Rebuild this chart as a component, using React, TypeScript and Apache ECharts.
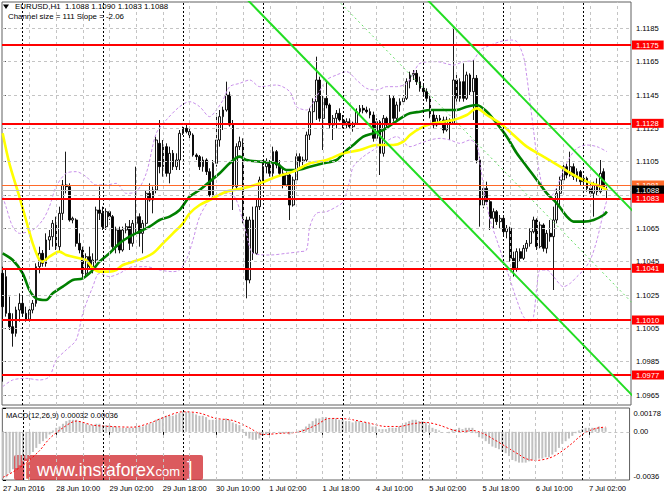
import React, { useEffect, useRef } from "react";
import * as echarts from "echarts";

// ---------- DATA ----------
// H1 candles, bar 0 = 27 Jun 2016 18:00 ; rows: [open, high, low, close]
const candles: number[][] = [
  [1.1038, 1.1042, 1.0973, 1.1018], [1.1036, 1.1041, 1.1012, 1.1014], [1.1014, 1.1024, 1.1004, 1.1006],
  [1.1006, 1.1014, 1.0994, 1.1002], [1.1002, 1.1018, 1.1000, 1.1016], [1.1016, 1.1026, 1.1009, 1.1020],
  [1.1020, 1.1025, 1.1012, 1.1014], [1.1014, 1.1018, 1.1009, 1.1010], [1.1010, 1.1018, 1.1009, 1.1016],
  [1.1016, 1.1022, 1.1014, 1.1020], [1.1020, 1.1044, 1.1018, 1.1042], [1.1042, 1.1054, 1.1038, 1.1050],
  [1.1050, 1.1052, 1.1042, 1.1044], [1.1044, 1.1062, 1.1042, 1.1058], [1.1058, 1.1064, 1.1052, 1.1060],
  [1.1060, 1.1070, 1.1054, 1.1068], [1.1068, 1.1072, 1.1052, 1.1054], [1.1054, 1.1078, 1.1051, 1.1074],
  [1.1074, 1.1094, 1.1070, 1.1091], [1.1091, 1.1111, 1.1086, 1.1090], [1.1090, 1.1092, 1.1069, 1.1070],
  [1.1070, 1.1072, 1.1068, 1.1071], [1.1070, 1.1071, 1.1054, 1.1056], [1.1056, 1.1062, 1.1050, 1.1052],
  [1.1052, 1.1054, 1.1035, 1.1038], [1.1038, 1.1050, 1.1036, 1.1048], [1.1048, 1.1054, 1.1040, 1.1042],
  [1.1042, 1.1050, 1.1038, 1.1046], [1.1046, 1.1078, 1.1044, 1.1076], [1.1076, 1.1090, 1.1070, 1.1074],
  [1.1074, 1.1078, 1.1064, 1.1066], [1.1066, 1.1077, 1.1064, 1.1075], [1.1075, 1.1076, 1.1070, 1.1072],
  [1.1072, 1.1073, 1.1052, 1.1054], [1.1054, 1.1066, 1.1050, 1.1064], [1.1064, 1.1066, 1.1050, 1.1052],
  [1.1052, 1.1066, 1.1051, 1.1064], [1.1064, 1.1068, 1.1062, 1.1066], [1.1066, 1.1070, 1.1052, 1.1056],
  [1.1056, 1.1070, 1.1054, 1.1068], [1.1068, 1.1102, 1.1062, 1.1072], [1.1072, 1.1074, 1.1054, 1.1062],
  [1.1062, 1.1070, 1.1050, 1.1068], [1.1068, 1.1088, 1.1066, 1.1086], [1.1086, 1.1092, 1.1081, 1.1082],
  [1.1082, 1.1090, 1.1074, 1.1088], [1.1088, 1.1120, 1.1086, 1.1118], [1.1116, 1.1130, 1.1098, 1.1102],
  [1.1102, 1.1118, 1.1096, 1.1114], [1.1114, 1.1116, 1.1096, 1.1098], [1.1098, 1.1114, 1.1092, 1.1110],
  [1.1110, 1.1112, 1.1100, 1.1102], [1.1102, 1.1110, 1.1100, 1.1106], [1.1106, 1.1124, 1.1100, 1.1122],
  [1.1122, 1.1126, 1.1121, 1.1125], [1.1125, 1.1127, 1.1122, 1.1123], [1.1123, 1.1125, 1.1119, 1.1121],
  [1.1121, 1.1122, 1.1108, 1.1109], [1.1109, 1.1110, 1.1106, 1.1108], [1.1108, 1.1109, 1.1100, 1.1102],
  [1.1102, 1.1108, 1.1099, 1.1106], [1.1106, 1.1107, 1.1097, 1.1099], [1.1099, 1.1101, 1.1084, 1.1085],
  [1.1085, 1.1106, 1.1084, 1.1104], [1.1104, 1.1134, 1.1102, 1.1118], [1.1118, 1.1136, 1.1114, 1.1132],
  [1.1132, 1.1138, 1.1124, 1.1136], [1.1136, 1.1153, 1.1135, 1.1145], [1.1145, 1.1147, 1.1126, 1.1127],
  [1.1127, 1.1130, 1.1076, 1.1090], [1.1090, 1.1116, 1.1088, 1.1114], [1.1114, 1.1120, 1.1112, 1.1117],
  [1.1116, 1.1119, 1.1068, 1.1070], [1.1070, 1.1072, 1.1023, 1.1034], [1.1034, 1.1072, 1.1032, 1.1070],
  [1.1070, 1.1078, 1.1046, 1.1050], [1.1050, 1.1082, 1.1049, 1.1078], [1.1078, 1.1096, 1.1076, 1.1094],
  [1.1094, 1.1106, 1.1092, 1.1102], [1.1102, 1.1107, 1.1098, 1.1104], [1.1104, 1.1106, 1.1096, 1.1098],
  [1.1098, 1.1114, 1.1096, 1.1111], [1.1111, 1.1112, 1.1101, 1.1103], [1.1103, 1.1106, 1.1096, 1.1098],
  [1.1098, 1.1101, 1.1089, 1.1091], [1.1091, 1.1099, 1.1090, 1.1097], [1.1097, 1.1098, 1.1070, 1.1079],
  [1.1079, 1.1096, 1.1078, 1.1094], [1.1094, 1.1110, 1.1092, 1.1108], [1.1108, 1.1110, 1.1102, 1.1105],
  [1.1105, 1.1108, 1.1103, 1.1106], [1.1106, 1.1123, 1.1105, 1.1121], [1.1121, 1.1137, 1.1118, 1.1135],
  [1.1135, 1.1143, 1.1128, 1.1141], [1.1141, 1.1168, 1.1130, 1.1154], [1.1154, 1.1156, 1.1129, 1.1131],
  [1.1131, 1.1145, 1.1112, 1.1143], [1.1143, 1.1153, 1.1137, 1.1139], [1.1139, 1.1140, 1.1125, 1.1127],
  [1.1127, 1.1133, 1.1118, 1.1131], [1.1131, 1.1136, 1.1125, 1.1134], [1.1134, 1.1137, 1.1129, 1.1130],
  [1.1130, 1.1133, 1.1125, 1.1127], [1.1127, 1.1131, 1.1125, 1.1129], [1.1129, 1.1131, 1.1125, 1.1126],
  [1.1126, 1.1129, 1.1123, 1.1128], [1.1128, 1.1137, 1.1127, 1.1135], [1.1135, 1.1139, 1.1133, 1.1137],
  [1.1137, 1.1139, 1.1134, 1.1136], [1.1136, 1.1138, 1.1134, 1.1135], [1.1135, 1.1137, 1.1131, 1.1133],
  [1.1133, 1.1135, 1.1117, 1.1119], [1.1119, 1.1131, 1.1118, 1.1129], [1.1129, 1.1130, 1.1097, 1.1110],
  [1.1110, 1.1133, 1.1108, 1.1131], [1.1131, 1.1132, 1.1125, 1.1127], [1.1127, 1.1145, 1.1126, 1.1143],
  [1.1143, 1.1145, 1.1129, 1.1131], [1.1131, 1.1141, 1.1130, 1.1139], [1.1139, 1.1143, 1.1135, 1.1141],
  [1.1141, 1.1145, 1.1139, 1.1143], [1.1143, 1.1155, 1.1142, 1.1153], [1.1153, 1.1159, 1.1149, 1.1157],
  [1.1157, 1.1160, 1.1154, 1.1158], [1.1158, 1.1160, 1.1151, 1.1153], [1.1153, 1.1156, 1.1147, 1.1149],
  [1.1149, 1.1151, 1.1145, 1.1147], [1.1147, 1.1149, 1.1141, 1.1143], [1.1143, 1.1145, 1.1131, 1.1133],
  [1.1133, 1.1136, 1.1125, 1.1127], [1.1127, 1.1133, 1.1126, 1.1131], [1.1131, 1.1133, 1.1128, 1.1130],
  [1.1130, 1.1132, 1.1122, 1.1124], [1.1124, 1.1132, 1.1123, 1.1130], [1.1130, 1.1131, 1.1118, 1.1128],
  [1.1128, 1.1186, 1.1127, 1.1154], [1.1154, 1.1157, 1.1141, 1.1143], [1.1143, 1.1155, 1.1141, 1.1153],
  [1.1153, 1.1164, 1.1141, 1.1143], [1.1143, 1.1159, 1.1142, 1.1157], [1.1157, 1.1158, 1.1145, 1.1147],
  [1.1147, 1.1166, 1.1130, 1.1155], [1.1155, 1.1157, 1.1104, 1.1106], [1.1106, 1.1108, 1.1066, 1.1079],
  [1.1079, 1.1091, 1.1077, 1.1089], [1.1089, 1.1093, 1.1079, 1.1081], [1.1081, 1.1082, 1.1064, 1.1071],
  [1.1071, 1.1077, 1.1065, 1.1075], [1.1075, 1.1076, 1.1067, 1.1069], [1.1069, 1.1073, 1.1065, 1.1071],
  [1.1071, 1.1072, 1.1061, 1.1063], [1.1063, 1.1067, 1.1059, 1.1065], [1.1065, 1.1066, 1.1045, 1.1047],
  [1.1047, 1.1051, 1.1036, 1.1041], [1.1041, 1.1053, 1.1039, 1.1051], [1.1051, 1.1053, 1.1045, 1.1047],
  [1.1047, 1.1055, 1.1046, 1.1053], [1.1053, 1.1058, 1.1051, 1.1056], [1.1056, 1.1065, 1.1054, 1.1063],
  [1.1063, 1.1072, 1.1062, 1.1070], [1.1070, 1.1071, 1.1052, 1.1054], [1.1054, 1.1069, 1.1053, 1.1067],
  [1.1067, 1.1068, 1.1051, 1.1053], [1.1053, 1.1064, 1.1050, 1.1062], [1.1062, 1.1070, 1.1057, 1.1060],
  [1.1060, 1.1078, 1.1028, 1.1070], [1.1070, 1.1089, 1.1068, 1.1086], [1.1086, 1.1096, 1.1078, 1.1094],
  [1.1094, 1.1104, 1.1092, 1.1102], [1.1102, 1.1104, 1.1095, 1.1097], [1.1097, 1.1111, 1.1096, 1.1102],
  [1.1102, 1.1104, 1.1094, 1.1096], [1.1096, 1.1101, 1.1093, 1.1099], [1.1099, 1.1100, 1.1091, 1.1093],
  [1.1093, 1.1097, 1.1091, 1.1095], [1.1095, 1.1096, 1.1087, 1.1089], [1.1089, 1.1094, 1.1084, 1.1086],
  [1.1086, 1.1093, 1.1072, 1.1091], [1.1091, 1.1095, 1.1085, 1.1087], [1.1087, 1.1106, 1.1086, 1.1098],
  [1.1099, 1.1101, 1.1089, 1.1090], [1.1088, 1.1090, 1.1083, 1.1088],
];

// Moving averages [bar, price]
const yellowMA: number[][] = [
  [0, 1.1122], [2, 1.1104], [5, 1.1084], [7, 1.107], [9, 1.1056], [11, 1.1046], [12, 1.1045], [14, 1.1048],
  [17, 1.1051], [19, 1.1049], [21, 1.1048], [23, 1.1047], [25, 1.1046], [27, 1.1041], [29, 1.1039], [32, 1.1039],
  [34, 1.104], [36, 1.1043], [39, 1.1045], [42, 1.1047], [45, 1.105], [48, 1.1056], [51, 1.1062], [54, 1.1068],
  [56, 1.1074], [59, 1.1079], [62, 1.1082], [67, 1.1087], [72, 1.1089], [77, 1.1092], [82, 1.1096], [87, 1.1099],
  [92, 1.1104], [97, 1.1106], [102, 1.111], [107, 1.1112], [112, 1.1115], [117, 1.1115], [120, 1.1117],
  [122, 1.1121], [125, 1.1125], [129, 1.1128], [135, 1.113], [139, 1.1133], [142, 1.1137], [145, 1.1133],
  [149, 1.1128], [153, 1.1121], [157, 1.1114], [162, 1.1108], [167, 1.1102], [171, 1.1097], [175, 1.1093],
  [178, 1.1091], [181, 1.1088],
];
const greenMA: number[][] = [
  [0, 1.105], [3, 1.1046], [6, 1.1038], [8, 1.1028], [10, 1.1023], [13, 1.1022], [15, 1.1026], [18, 1.103],
  [21, 1.1034], [24, 1.1035], [27, 1.104], [29, 1.1045], [32, 1.105], [35, 1.1056], [38, 1.106], [41, 1.1063],
  [44, 1.1066], [47, 1.107], [50, 1.1072], [53, 1.1076], [56, 1.1084], [59, 1.1088], [62, 1.1093], [65, 1.1098],
  [68, 1.1104], [71, 1.1108], [73, 1.1106], [77, 1.1105], [82, 1.1104], [85, 1.11], [88, 1.11], [92, 1.1102],
  [96, 1.1104], [100, 1.1106], [102, 1.111], [105, 1.1115], [108, 1.112], [111, 1.1122], [114, 1.1124],
  [117, 1.1128], [120, 1.1132], [122, 1.1134], [125, 1.1135], [128, 1.1136], [132, 1.1136], [136, 1.1136],
  [139, 1.1138], [142, 1.1139], [145, 1.1135], [148, 1.1128], [151, 1.112], [154, 1.111], [157, 1.1102],
  [160, 1.1094], [163, 1.1086], [166, 1.108], [169, 1.1072], [171, 1.1069], [174, 1.1069], [177, 1.107],
  [180, 1.1073], [181, 1.1075],
];

// Bollinger bands [bar, price]
const bbUpper: number[][] = [
  [0, 1.1084], [1, 1.1078], [3, 1.1066], [5, 1.1062], [9, 1.1064], [12, 1.107], [14, 1.1078], [16, 1.109],
  [19, 1.1098], [22, 1.1099], [25, 1.1096], [28, 1.1091], [31, 1.1091], [34, 1.1092], [37, 1.1086], [40, 1.1087],
  [43, 1.1098], [46, 1.1122], [49, 1.113], [53, 1.1138], [56, 1.1141], [59, 1.1138], [62, 1.1132], [64, 1.1136],
  [66, 1.1142], [68, 1.115], [71, 1.1152], [74, 1.1154], [77, 1.115], [82, 1.1151], [86, 1.1147], [88, 1.1138],
  [91, 1.1136], [94, 1.1144], [97, 1.1154], [100, 1.1157], [103, 1.1159], [106, 1.1154], [109, 1.1149],
  [112, 1.1148], [115, 1.115], [118, 1.115], [121, 1.1152], [123, 1.1158], [125, 1.1164], [130, 1.1165],
  [135, 1.1163], [138, 1.1165], [141, 1.1166], [143, 1.1172], [145, 1.1174], [149, 1.1177], [152, 1.1178],
  [154, 1.1177], [156, 1.1168], [157, 1.1156], [158, 1.114], [159, 1.1124], [160, 1.1108], [161, 1.1096],
  [162, 1.1088], [164, 1.1084], [166, 1.109], [168, 1.11], [170, 1.1108], [172, 1.1113], [175, 1.1115],
  [178, 1.1114], [181, 1.1111],
];
const bbLower: number[][] = [
  [0, 1.097], [3, 1.0974], [7, 1.0975], [11, 1.0974], [14, 1.0976], [16, 1.0986], [19, 1.0992], [22, 1.0998],
  [24, 1.1014], [27, 1.103], [29, 1.1038], [32, 1.1036], [35, 1.1038], [39, 1.1042], [43, 1.1042], [47, 1.104],
  [51, 1.1039], [53, 1.104], [55, 1.1046], [57, 1.1058], [59, 1.1072], [62, 1.1082], [65, 1.1086], [68, 1.1086],
  [70, 1.1082], [73, 1.1062], [75, 1.105], [80, 1.1049], [85, 1.105], [89, 1.1051], [91, 1.1052], [92, 1.1066],
  [94, 1.1074], [97, 1.1075], [100, 1.1078], [102, 1.1081], [104, 1.1094], [105, 1.1102], [108, 1.1108],
  [111, 1.1112], [114, 1.1116], [118, 1.112], [122, 1.1114], [125, 1.1116], [128, 1.1118], [131, 1.1119],
  [134, 1.1118], [137, 1.1116], [140, 1.1118], [142, 1.1115], [143, 1.1104], [144, 1.109], [146, 1.107],
  [148, 1.1058], [150, 1.1046], [152, 1.1034], [154, 1.1022], [156, 1.1012], [158, 1.1009], [159, 1.1012],
  [160, 1.103], [161, 1.104], [163, 1.104], [165, 1.1036], [168, 1.103], [170, 1.1032], [172, 1.1036],
  [174, 1.104], [176, 1.1046], [178, 1.1058], [180, 1.1075], [181, 1.1082],
];

// Regression channel end points [bar, price] (size 111 pips, slope -2.06 pips/bar)
const channelUpper: number[][] = [[70, 1.132], [190, 1.10728]];
const channelMid: number[][] = [[70, 1.12645], [190, 1.10173]];
const channelLower: number[][] = [[70, 1.1209], [190, 1.09618]];

// Horizontal levels
const levels = [1.1175, 1.1128, 1.1083, 1.1041, 1.101, 1.0977];
const bidPrice = 1.1088;
const askPrice = 1.1091;

// MACD (12,26,9) in units of 0.0001
const MACD_UNIT = 0.0001;
const macdHist: number[] = [
  -35, -34, -31, -28, -27, -25, -22, -20, -17, -15,
  -12, -9, -7, -5, -2, 1, 3, 4, 6, 8,
  9, 9, 9, 8, 7, 6, 5, 5, 6, 6,
  5, 5, 5, 4, 4, 3, 3, 3, 3, 3,
  4, 4, 4, 5, 6, 7, 9, 10, 11, 12,
  12, 12, 13, 14, 15, 15, 15, 14, 13, 12,
  12, 11, 9, 9, 9, 9, 9, 10, 9, 7,
  6, 5, 2, -3, -5, -6, -6, -5, -3, -2,
  -1, 0, 0, -1, -1, -1, -2, -1, 0, 1,
  2, 4, 6, 8, 10, 10, 11, 11, 10, 10,
  10, 9, 9, 8, 8, 7, 8, 8, 7, 7,
  6, 4, 4, 2, 2, 2, 3, 3, 3, 4,
  5, 7, 8, 9, 9, 8, 8, 7, 5, 3,
  2, 1, 0, 0, -1, 2, 2, 3, 2, 3,
  3, 3, -1, -4, -5, -7, -9, -11, -12, -13,
  -15, -16, -18, -21, -22, -23, -23, -23, -22, -21,
  -21, -20, -20, -19, -19, -17, -15, -12, -9, -7,
  -5, -3, -1, 1, 2, 3, 3, 3, 3, 4,
  3, 3.2,
];
const macdSignal: number[][] = [
  [0, -34], [3, -30], [7, -23], [11, -14], [14, -5], [18, 3], [22, 8], [27, 5], [32, 4], [39, 3.5],
  [44, 6.5], [49, 11.5], [54, 15], [59, 14], [64, 10], [69, 8.5], [74, 3], [78, -2], [84, -1], [89, 0],
  [94, 5], [98, 10], [101, 10], [105, 9], [110, 6.5], [115, 4], [119, 4], [123, 6], [127, 7], [131, 5],
  [135, 1.5], [138, 0.2], [141, 1], [144, -1], [147, -5], [151, -11], [155, -17], [157, -20], [160, -21.4],
  [164, -19.7], [167, -16], [171, -8.5], [173, -4], [175, -0.5], [178, 2.5], [181, 3.6],
];

// Axes
const priceTicks = [1.0965, 1.0985, 1.1005, 1.1025, 1.1045, 1.1065, 1.1085, 1.1105, 1.1125, 1.1145, 1.1165, 1.1185];
const macdTicks = [0.00178, 0, -0.0036];
const macdTickTexts = ["{top|0.00178}", "0.00", "{bot|-0.0036}"];
const timeTickBars = [0, 16, 32, 48, 64, 80, 96, 112, 128, 144, 160, 176];
const timeTickLabels = [
  "27 Jun 2016", "28 Jun 10:00", "29 Jun 02:00", "29 Jun 18:00", "30 Jun 10:00", "1 Jul 02:00",
  "1 Jul 18:00", "4 Jul 10:00", "5 Jul 02:00", "5 Jul 18:00", "6 Jul 10:00", "7 Jul 02:00",
];
const gridBars = [8, 16, 24, 32, 40, 48, 56, 64, 72, 80, 88, 96, 104, 112, 120, 128, 136, 144, 152, 160, 168, 176, 184];
const daySeparatorBars = [6, 30, 54, 78, 102, 126, 150, 174];

const headerLine1 = "EURUSD,H1  1.1088 1.1090 1.1083 1.1088";
const headerLine2 = "Channel size = 111 Slope = -2.06";
const macdTitle = "MACD(12,26,9) 0.00032 0.00036";

// ---------- CHART ----------
const FONT = "'Liberation Sans', Arial, sans-serif";
const FS = 7.6;
const X_MIN = -0.2;
const X_MAX = 188.2;

function guide(xi: number, yi: number, data: any[], lineStyle: any, z: number) {
  return {
    type: "line",
    xAxisIndex: xi,
    yAxisIndex: yi,
    data: [],
    symbol: "none",
    silent: true,
    z,
    markLine: { silent: true, precision: 6, symbol: ["none", "none"], label: { show: false }, lineStyle, data },
  };
}

function priceLines(values: number[], color: string, width: number, bg: string, z: number) {
  return {
    type: "line",
    xAxisIndex: 0,
    yAxisIndex: 0,
    data: [],
    symbol: "none",
    silent: true,
    z,
    markLine: {
      silent: true,
      precision: 6,
      symbol: ["none", "none"],
      lineStyle: { color, width, type: "solid" },
      label: {
        show: true,
        position: "end",
        distance: 1,
        formatter: (p: any) => Number(p.value).toFixed(4),
        color: "#ffffff",
        backgroundColor: bg,
        padding: [1, 5, 0, 4],
        fontSize: FS,
        fontFamily: FONT,
      },
      data: values.map((v) => ({ yAxis: v })),
    },
  };
}

function lineSeries(data: number[][], color: string, width: number, type: any, z: number, smooth: number) {
  return {
    type: "line",
    xAxisIndex: 0,
    yAxisIndex: 0,
    data,
    symbol: "none",
    silent: true,
    smooth,
    z,
    lineStyle: { color, width, type },
  };
}

function buildOption(): any {
  const gridDash = { color: "#c4c4c4", width: 1, type: [3, 3] };
  const sepDot = { color: "#000000", width: 1, type: [2, 2] };
  return {
    animation: false,
    backgroundColor: "#ffffff",
    textStyle: { fontFamily: FONT },
    grid: [
      { left: 2, right: 33, top: 2, height: 403, show: true, borderColor: "#606060", borderWidth: 1, backgroundColor: "#ffffff" },
      { left: 2, right: 33, top: 408, height: 72, show: true, borderColor: "#606060", borderWidth: 1, backgroundColor: "#ffffff" },
    ],
    xAxis: [
      {
        type: "value", gridIndex: 0, min: X_MIN, max: X_MAX,
        axisLine: { show: false }, axisTick: { show: false }, axisLabel: { show: false }, splitLine: { show: false },
      },
      {
        type: "value", gridIndex: 1, min: X_MIN, max: X_MAX,
        axisLine: { show: false }, splitLine: { show: false },
        axisTick: { show: true, customValues: timeTickBars, length: 3, lineStyle: { color: "#000" } },
        axisLabel: {
          show: true,
          customValues: timeTickBars,
          formatter: (v: number) => {
            const k = timeTickBars.indexOf(Math.round(v));
            return k >= 0 ? timeTickLabels[k] : "";
          },
          align: "left",
          margin: 4,
          fontSize: FS,
          fontFamily: FONT,
          color: "#000000",
        },
      },
    ],
    yAxis: [
      {
        type: "value", gridIndex: 0, position: "right", min: 1.0959, max: 1.12008,
        axisLine: { show: false }, splitLine: { show: false },
        axisTick: { show: true, customValues: priceTicks, length: 3, lineStyle: { color: "#000" } },
        axisLabel: {
          customValues: priceTicks,
          formatter: (v: number) => v.toFixed(4),
          margin: 5,
          fontSize: FS,
          fontFamily: FONT,
          color: "#000000",
        },
      },
      {
        type: "value", gridIndex: 1, position: "right", min: -0.0036, max: 0.00178,
        axisLine: { show: false }, splitLine: { show: false },
        axisTick: { show: true, customValues: macdTicks, length: 3, lineStyle: { color: "#000" } },
        axisLabel: {
          customValues: macdTicks,
          formatter: (v: number) => {
            let best = 0;
            macdTicks.forEach((t, i) => {
              if (Math.abs(t - v) < Math.abs(macdTicks[best] - v)) best = i;
            });
            return macdTickTexts[best];
          },
          margin: 4,
          fontSize: FS,
          fontFamily: FONT,
          color: "#000000",
          rich: {
            top: { fontSize: FS, fontFamily: FONT, color: "#000", padding: [10, 0, 0, 0] },
            bot: { fontSize: FS, fontFamily: FONT, color: "#000", padding: [0, 0, 8, 0] },
          },
        },
      },
    ],
    series: [
      // grid + separators, main panel
      guide(0, 0, [...priceTicks.map((v) => ({ yAxis: v })), ...gridBars.map((b) => ({ xAxis: b }))], gridDash, 1),
      guide(0, 0, daySeparatorBars.map((b) => ({ xAxis: b })), sepDot, 1),
      // grid + separators, MACD panel
      guide(1, 1, [{ yAxis: 0 }, ...gridBars.map((b) => ({ xAxis: b }))], gridDash, 1),
      guide(1, 1, daySeparatorBars.map((b) => ({ xAxis: b })), sepDot, 1),
      // Bollinger bands
      lineSeries(bbUpper, "#c890ea", 1, [3, 2], 3, 0.3),
      lineSeries(bbLower, "#c890ea", 1, [3, 2], 3, 0.3),
      // candles
      {
        type: "candlestick",
        xAxisIndex: 0,
        yAxisIndex: 0,
        z: 2,
        silent: true,
        barWidth: 2.3,
        dimensions: ["bar", "open", "close", "lowest", "highest"],
        encode: { x: 0, y: [1, 2, 3, 4] },
        data: candles.map((r, i) => [i, r[0], r[3], r[2], r[1]]),
        itemStyle: {
          color: "#ffffff",
          color0: "#000000",
          borderColor: "#000000",
          borderColor0: "#000000",
          borderWidth: 0.9,
        },
      },
      // moving averages
      lineSeries(greenMA, "#008000", 2.6, "solid", 4, 0.3),
      lineSeries(yellowMA, "#ffff00", 2.6, "solid", 4, 0.3),
      // regression channel
      lineSeries(channelUpper, "#22dd22", 2, "solid", 5, 0),
      lineSeries(channelLower, "#22dd22", 2, "solid", 5, 0),
      lineSeries(channelMid, "#66dd66", 1, [2, 3], 5, 0),
      // price lines (ask, bid, levels)
      priceLines([askPrice], "#ff6a2a", 1, "#ff6a2a", 6),
      priceLines([bidPrice], "#c0c0c0", 1, "#000000", 7),
      priceLines(levels, "#ff0000", 2, "#ff0000", 8),
      // MACD histogram and signal
      {
        type: "bar",
        xAxisIndex: 1,
        yAxisIndex: 1,
        silent: true,
        barWidth: 2,
        z: 2,
        itemStyle: { color: "#c0c0c0" },
        data: macdHist.map((v, i) => [i, v * MACD_UNIT]),
      },
      {
        type: "line",
        xAxisIndex: 1,
        yAxisIndex: 1,
        silent: true,
        symbol: "none",
        smooth: 0.3,
        z: 3,
        lineStyle: { color: "#ff0000", width: 1, type: [2, 2] },
        data: macdSignal.map((p) => [p[0], p[1] * MACD_UNIT]),
      },
    ],
    graphic: [
      { type: "polygon", shape: { points: [[3, 4.5], [9, 4.5], [6, 9]] }, style: { fill: "#000" }, z: 20 },
      {
        type: "text", x: 15, y: 6.5, z: 20,
        style: { text: headerLine1, fontSize: FS + 0.3, fontFamily: FONT, fill: "#000", verticalAlign: "middle" },
      },
      {
        type: "text", x: 8, y: 16.5, z: 20,
        style: { text: headerLine2, fontSize: FS + 0.3, fontFamily: FONT, fill: "#000", verticalAlign: "middle" },
      },
      {
        type: "text", x: 6, y: 415, z: 20,
        style: { text: macdTitle, fontSize: FS, fontFamily: FONT, fill: "#000", verticalAlign: "middle" },
      },
      {
        type: "group",
        z: 30,
        children: [
          { type: "rect", shape: { x: 14, y: 455, width: 189, height: 25, r: 2 }, style: { fill: "rgba(208, 38, 44, 0.76)" } },
          { type: "text", x: 23, y: 469, style: { text: "[", fontSize: 20, fontFamily: FONT, fill: "#ffffff", verticalAlign: "middle" } },
          { type: "text", x: 37, y: 470, style: { text: "www.instaforex", fontSize: 17.5, fontFamily: FONT, fill: "#ffffff", verticalAlign: "middle" } },
          { type: "text", x: 152, y: 471.5, style: { text: ".com", fontSize: 13, fontFamily: FONT, fill: "#ffffff", verticalAlign: "middle" } },
          { type: "text", x: 187, y: 469, style: { text: "]", fontSize: 20, fontFamily: FONT, fill: "#ffffff", verticalAlign: "middle" } },
        ],
      },
    ],
  };
}

export default function App() {
  const ref = useRef<HTMLDivElement>(null);
  useEffect(() => {
    if (!ref.current) return;
    const chart = echarts.init(ref.current, null, { renderer: "svg" });
    chart.setOption(buildOption());
    return () => chart.dispose();
  }, []);
  return (
    <div
      ref={ref}
      style={{ position: "fixed", left: 0, top: 0, width: 664, height: 498, background: "#ffffff" }}
    />
  );
}
